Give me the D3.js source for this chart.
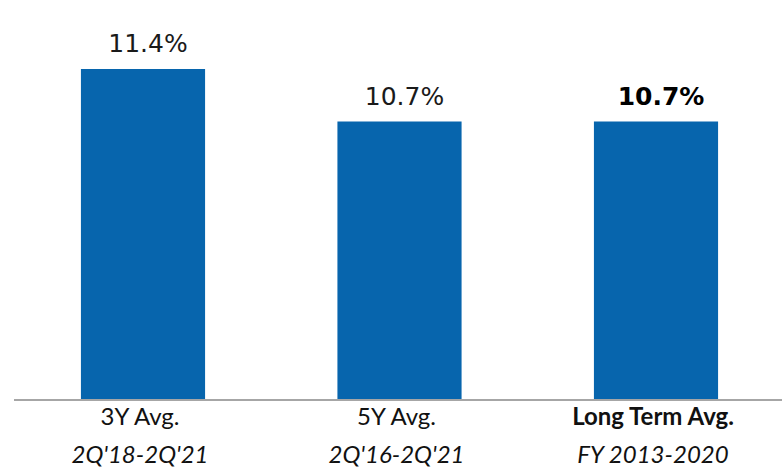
<!DOCTYPE html>
<html>
  <head>
    <meta charset="utf-8">
    <title>Average bars</title>
    <script src="https://d3js.org/d3.v7.min.js"></script>
    <style>
      body { margin: 0; background: white; }
      svg { display: block; background-color: white; }
      .value { font-family: "DejaVu Sans", sans-serif; font-size: 25px; fill: #1a1a1a; }
      .value.bold { font-weight: bold; fill: #000; }
      .cat { font-family: Lato, "Liberation Sans", sans-serif; font-size: 24px; fill: #111; }
      .cat.bold { font-weight: bold; }
      .sub { font-style: italic; }
    </style>
  </head>
  <body>
    <svg></svg>
    <script>
      // data
      var categories = ["3Y Avg.", "5Y Avg.", "Long Term Avg."];
      var periods = ["2Q'18-2Q'21", "2Q'16-2Q'21", "FY 2013-2020"];
      var values = [11.4, 10.7, 10.7];
      var valueLabels = ["11.4%", "10.7%", "10.7%"];
      var boldFlags = [false, false, true];

      // layout
      var svgWidth = 782,
          svgHeight = 469,
          baseY = 399;

      var rows = categories.map(function(c, i) {
        return {cat: c, period: periods[i], value: values[i], label: valueLabels[i], bold: boldFlags[i]};
      });

      var svg = d3.select("svg")
        .attr("width", svgWidth)
        .attr("height", svgHeight);

      var x = d3.scaleBand()
        .domain(categories)
        .range([14.75, 784.25])
        .paddingInner(0.516)
        .paddingOuter(0.258);

      var y = d3.scaleLinear()
        .domain([7, 12.2])
        .range([baseY, baseY - 5.2 * 75]);

      svg.append("g").selectAll("rect")
        .data(rows)
        .enter().append("rect")
          .attr("x", function(d){ return x(d.cat); })
          .attr("y", function(d){ return y(d.value); })
          .attr("width", x.bandwidth())
          .attr("height", function(d){ return baseY - y(d.value); })
          .attr("fill", "#0765AD");

      // baseline
      svg.append("line")
        .attr("x1", 14).attr("x2", svgWidth)
        .attr("y1", baseY + 1).attr("y2", baseY + 1)
        .attr("stroke", "#A6A6A6")
        .attr("stroke-width", 2);

      // value labels
      svg.append("g").selectAll("text")
        .data(rows)
        .enter().append("text")
          .attr("class", function(d){ return d.bold ? "value bold" : "value"; })
          .attr("text-anchor", "middle")
          .attr("x", function(d){ return x(d.cat) + x.bandwidth()/2 + 5; })
          .attr("y", function(d){ return y(d.value) - 17; })
          .text(function(d){ return d.label; });

      // category labels
      var cats = svg.append("g").selectAll("g")
        .data(rows)
        .enter().append("g")
          .attr("transform", function(d){ return "translate(" + (x(d.cat) + x.bandwidth()/2 - 3) + ",0)"; });

      cats.append("text")
        .attr("class", function(d){ return d.bold ? "cat bold" : "cat"; })
        .attr("text-anchor", "middle")
        .attr("y", 425)
        .text(function(d){ return d.cat; });

      cats.append("text")
        .attr("class", "cat sub")
        .attr("text-anchor", "middle")
        .attr("y", 463)
        .text(function(d){ return d.period; });
    </script>
  </body>
</html>
